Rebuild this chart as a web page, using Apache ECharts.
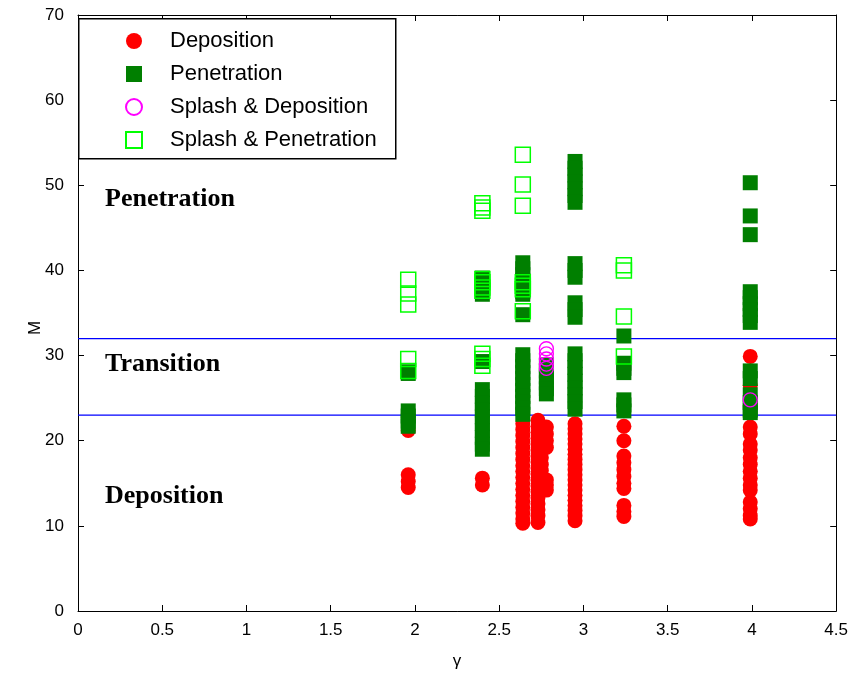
<!DOCTYPE html>
<html>
<head>
<meta charset="utf-8">
<script src="https://cdn.jsdelivr.net/npm/echarts@6/dist/echarts.min.js"></script>
<style>
  html, body { margin: 0; padding: 0; background: #fff; }
  #chart { width: 851px; height: 677px; }
</style>
</head>
<body>
<div id="chart"></div>
<script>
// Axis ticks
const xTicks = [0, 0.5, 1, 1.5, 2, 2.5, 3, 3.5, 4, 4.5];
const yTicks = [0, 10, 20, 30, 40, 50, 60, 70];

// Regime boundaries (M)
const boundaries = [32, 23];

// Deposition (filled red circles), grouped by gamma column
const depG196 = [21.2, 16.0, 15.2, 14.5];
const depG240 = [15.6, 14.8];
const depG264 = [22.0, 21.3, 20.6, 19.9, 19.2, 18.5, 17.8, 17.1, 16.4, 15.7, 15.0, 14.3, 13.6, 12.9, 12.2, 11.5, 10.8, 10.3];
const depG273 = [22.4, 21.7, 21.0, 20.3, 19.6, 18.9, 18.2, 17.5, 16.8, 16.1, 15.4, 14.7, 14.0, 13.3, 12.6, 11.9, 11.2, 10.4];
const depG275 = [18.0, 17.2, 16.5];
const depG278 = [21.6, 20.8, 20.0, 19.2, 15.4, 14.8, 14.2];
const depG295 = [22.0, 21.4, 20.8, 20.2, 19.6, 19.0, 18.4, 17.8, 17.2, 16.6, 16.0, 15.4, 14.8, 14.2, 13.6, 13.0, 12.4, 11.8, 11.2, 10.6];
const depG324 = [21.7, 20.0, 18.2, 17.4, 16.6, 15.8, 15.0, 14.4, 12.4, 11.7, 11.1];
const depG399 = [29.9, 26.5, 21.6, 20.8, 19.6, 18.9, 18.0, 17.2, 16.4, 15.6, 14.8, 14.2, 12.8, 12.0, 11.2, 10.8];

// Penetration (filled dark green squares)
const penG196 = [28.1, 27.9, 23.5, 22.9, 22.3, 21.7];
const penG240 = [39.1, 38.3, 37.2, 29.3, 26.0, 25.2, 24.4, 23.6, 22.8, 22.0, 21.2, 20.4, 19.6, 19.0];
const penG264 = [40.9, 40.2, 39.5, 38.8, 38.1, 37.5, 37.2, 34.8, 30.1, 29.4, 28.7, 28.0, 27.3, 26.6, 25.9, 25.2, 24.5, 23.8, 23.1];
const penG278 = [28.9, 28.2, 27.5, 26.8, 26.1, 25.5];
const penG295 = [52.8, 52.0, 51.2, 50.4, 49.6, 48.8, 48.0, 40.8, 40.0, 39.2, 36.2, 35.4, 34.5, 30.2, 29.4, 28.6, 27.8, 27.0, 26.2, 25.4, 24.6, 23.7];
const penG324 = [32.3, 29.1, 28.5, 28.0, 24.8, 24.2, 23.5];
const penG399 = [50.3, 46.4, 44.2, 37.5, 36.8, 36.1, 35.4, 34.7, 33.9, 28.2, 27.3, 25.4, 24.5, 23.6, 23.3];

// Splash & Deposition (open magenta circles)
const sdepG278 = [30.8, 30.2, 29.6, 29.0, 28.5];
const sdepG399 = [24.8];

// Splash & Penetration (open green squares)
const spenG196 = [38.9, 37.3, 36.0, 29.6, 28.2];
const spenG240 = [47.9, 47.4, 47.0, 39.0, 38.6, 38.0, 37.6, 30.2, 29.6, 28.8];
const spenG264 = [53.6, 50.1, 47.6, 38.6, 38.2, 37.8, 35.2];
const spenG324 = [40.6, 40.0, 34.6, 29.9];

const col = (g, ms) => ms.map(m => [g, m]);

const deposition = [].concat(
  col(1.96, depG196), col(2.40, depG240), col(2.64, depG264), col(2.73, depG273),
  col(2.75, depG275), col(2.78, depG278), col(2.95, depG295), col(3.24, depG324), col(3.99, depG399)
);
const penetration = [].concat(
  col(1.96, penG196), col(2.40, penG240), col(2.64, penG264), col(2.78, penG278),
  col(2.95, penG295), col(3.24, penG324), col(3.99, penG399)
);
const splashDep = [].concat(col(2.78, sdepG278), col(3.99, sdepG399));
const splashPen = [].concat(
  col(1.96, spenG196), col(2.40, spenG240), col(2.64, spenG264), col(3.24, spenG324)
);

const labelFont = 'Liberation Sans, Arial, sans-serif';
const regionFont = 'bold 26px "Liberation Serif", "Times New Roman", serif';
const chart = echarts.init(document.getElementById('chart'), null, { renderer: 'canvas' });

const axisCommon = {
  axisLine: { show: true, onZero: false, lineStyle: { color: '#000', width: 1 } },
  axisTick: { show: true, inside: true, length: 6, lineStyle: { color: '#000' } },
  splitLine: { show: false }
};

// Horizontal boundary lines spanning the full gamma range
const boundarySeries = boundaries.map((v, i) => ({
  name: 'boundary' + i, type: 'line', silent: true, symbol: 'none',
  lineStyle: { color: '#0000ff', width: 1.2 },
  itemStyle: { color: '#0000ff' },
  data: [[xTicks[0], v], [xTicks[xTicks.length - 1], v]],
  z: 1
}));

chart.setOption({
  animation: false,
  backgroundColor: '#fff',
  grid: { left: 78, right: 14, top: 15, bottom: 66 },
  xAxis: [
    Object.assign({
      type: 'value', min: xTicks[0], max: xTicks[xTicks.length - 1], interval: 0.5,
      name: 'γ', nameLocation: 'middle', nameGap: 42,
      nameTextStyle: { fontFamily: labelFont, fontSize: 17, color: '#000' },
      axisLabel: { fontFamily: labelFont, fontSize: 17, color: '#000', margin: 11 }
    }, axisCommon),
    Object.assign({
      type: 'value', position: 'top', min: xTicks[0], max: xTicks[xTicks.length - 1], interval: 0.5,
      axisLabel: { show: false }
    }, axisCommon)
  ],
  yAxis: [
    Object.assign({
      type: 'value', min: yTicks[0], max: yTicks[yTicks.length - 1], interval: 10,
      axisLabel: { fontFamily: labelFont, fontSize: 17, color: '#000', margin: 14 }
    }, axisCommon),
    Object.assign({
      type: 'value', position: 'right', min: yTicks[0], max: yTicks[yTicks.length - 1], interval: 10,
      axisLabel: { show: false }
    }, axisCommon)
  ],
  legend: {
    orient: 'vertical',
    left: 120, top: 25, z: 200,
    itemWidth: 16, itemHeight: 16, itemGap: 11,
    selectedMode: false,
    textStyle: { fontFamily: labelFont, fontSize: 22, color: '#000', lineHeight: 20, padding: [0, 0, 0, 23] },
    data: ['Deposition', 'Penetration', 'Splash & Deposition', 'Splash & Penetration']
  },
  graphic: [
    { type: 'rect', left: 78, top: 18, z: 100, silent: true,
      shape: { width: 317, height: 140 },
      style: { fill: '#fff', stroke: '#000', lineWidth: 1.5 } },
    { type: 'text', x: 35, y: 328, rotation: Math.PI / 2,
      style: { text: 'M', font: '17px ' + labelFont, fill: '#000', align: 'center', verticalAlign: 'middle' } },
    { type: 'text', left: 105, top: 186, style: { text: 'Penetration', font: regionFont, fill: '#000' } },
    { type: 'text', left: 105, top: 351, style: { text: 'Transition', font: regionFont, fill: '#000' } },
    { type: 'text', left: 105, top: 483, style: { text: 'Deposition', font: regionFont, fill: '#000' } }
  ],
  series: [
    {
      name: 'Deposition', type: 'scatter', symbol: 'circle', symbolSize: 15,
      itemStyle: { color: '#ff0000', opacity: 1 },
      data: deposition
    },
    {
      name: 'Penetration', type: 'scatter', symbol: 'rect', symbolSize: 15,
      itemStyle: { color: '#007f00', opacity: 1 },
      data: penetration
    },
    {
      name: 'Splash & Deposition', type: 'scatter', symbol: 'circle', symbolSize: 14,
      itemStyle: { color: 'rgba(0,0,0,0)', borderColor: '#ff00ff', borderWidth: 1.3, opacity: 1 },
      data: splashDep
    },
    {
      name: 'Splash & Penetration', type: 'scatter', symbol: 'rect', symbolSize: 15,
      itemStyle: { color: 'rgba(0,0,0,0)', borderColor: '#00ff00', borderWidth: 1.5, opacity: 1 },
      data: splashPen
    }
  ].concat(boundarySeries)
});
</script>
</body>
</html>
